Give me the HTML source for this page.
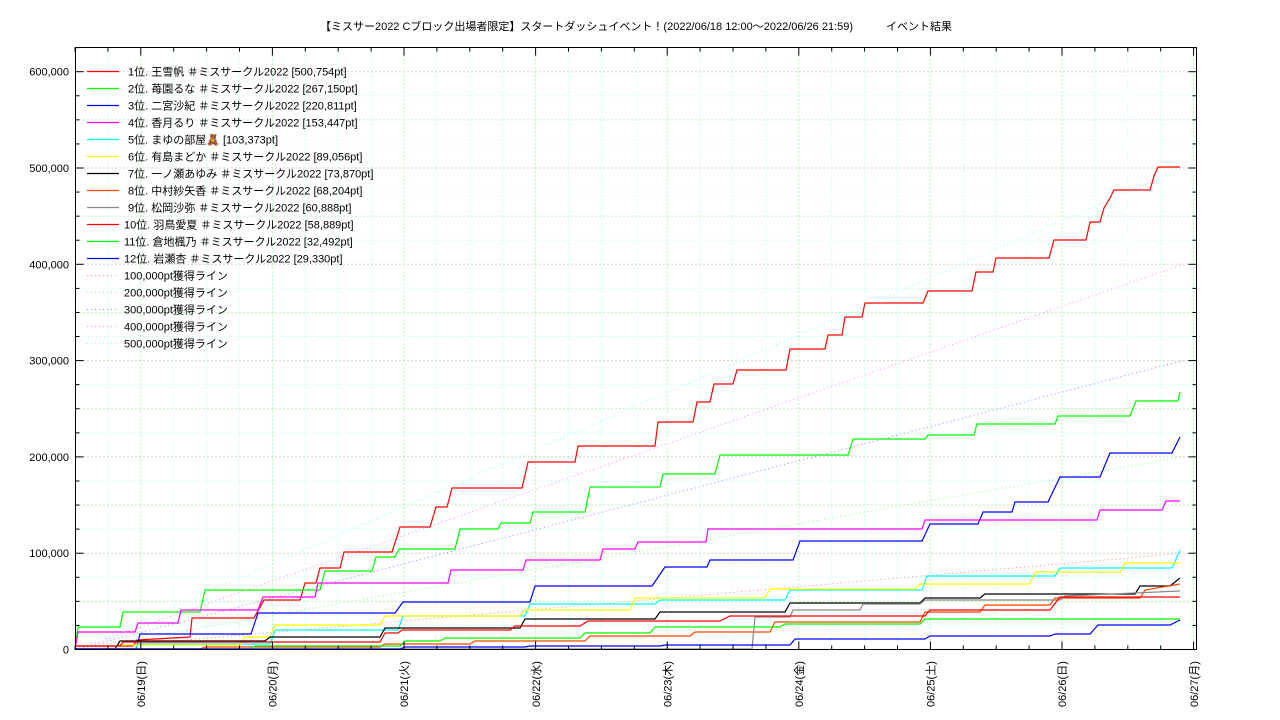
<!DOCTYPE html>
<html><head><meta charset="utf-8"><style>
html,body{margin:0;padding:0;background:#fff;width:1280px;height:720px;overflow:hidden}
svg text{font-family:"Liberation Sans","Noto Sans CJK JP",sans-serif;fill:#000}
</style></head><body>
<svg id="s" width="1280" height="720" xmlns="http://www.w3.org/2000/svg">
<text x="636" y="30" font-size="11" text-anchor="middle">【ミスサー2022 Cブロック出場者限定】スタートダッシュイベント！(2022/06/18 12:00～2022/06/26 21:59)　　　イベント結果</text>
<g id="grid"></g>
<g id="targets"></g>
<g id="series" fill="none" stroke-width="1.2"></g>
<rect x="75.5" y="47.5" width="1121" height="602" fill="none" stroke="#000"/>
<g id="ticks" stroke="#000"></g>
<g id="labels" font-size="11"></g>
<g id="legend" font-size="11"></g>
</svg>
<script>
const NS="http://www.w3.org/2000/svg";
function el(p,t,a,txt){const e=document.createElementNS(NS,t);for(const k in a)e.setAttribute(k,a[k]);if(txt)e.textContent=txt;document.getElementById(p).appendChild(e);return e;}
const L=75.5,R=1196.5,T=47.5,B=649.5,day=131.6,x0=75;
const yv=v=>B-v*0.000963;
// grid
for(let i=1;i<40;i++){let x=x0+i*day/4;if(x>=R)break;let isDay=(i%4==2);el('grid','line',{x1:x,x2:x,y1:T,y2:B,stroke:isDay?'#7e7':'#aff',"stroke-dasharray":'1,3'});}
for(let v=25000;v<=625000;v+=25000){let y=yv(v);if(y<T)break;let c=v%100000==0?'#aa7':(v%50000==0?'#7e7':'#aff');el('grid','line',{x1:L,x2:R,y1:y,y2:y,stroke:c,"stroke-dasharray":'1,3'});}
// ticks
for(let i=0;i<=40;i++){let x=x0+i*day/4;if(x>R)break;let big=(i%4==2);let len=big?8:4;
 el('ticks','line',{x1:x,x2:x,y1:B,y2:B-len});el('ticks','line',{x1:x,x2:x,y1:T,y2:T+len});}
for(let v=0;v<=625000;v+=25000){let y=yv(v);if(y<T)break;let len=v%100000==0?8:4;
 el('ticks','line',{x1:L,x2:L+len,y1:y,y2:y});el('ticks','line',{x1:R,x2:R-len,y1:y,y2:y});
 if(v%100000==0)el('labels','text',{x:69,y:y+4,"text-anchor":"end"},v.toLocaleString('en-US'));}
const days=['06/19(日)','06/20(月)','06/21(火)','06/22(水)','06/23(木)','06/24(金)','06/25(土)','06/26(日)','06/27(月)'];
days.forEach((d,i)=>{let x=x0+66+i*day+4;el('labels','text',{transform:`translate(${x},707) rotate(-90)`},d);});
// targets
const tc=['#f88','#8f8','#88f','#f8f','#8ff'];
for(let k=1;k<=5;k++){el('targets','line',{x1:L,y1:B,x2:1183,y2:yv(k*100000),stroke:tc[k-1],"stroke-dasharray":'1,3'});}
const S=[
['#f00',[[75,646],[133,646],[137,640],[190,637],[192,618],[254,618],[264,600],[300,600],[305,583],[316,583],[320,568],[340,568],[344,552],[392,552],[400,527],[430,527],[436,507],[447,507],[452,488],[522,488],[528,462],[575,462],[578,446],[655,446],[658,422],[693,422],[697,402],[710,402],[714,384],[733,384],[737,370],[786,370],[790,349],[825,349],[828,335],[842,335],[845,317],[862,317],[865,303],[923,303],[928,291],[972,291],[976,272],[993,272],[996,258],[1049,258],[1054,240],[1086,240],[1090,222],[1100,222],[1104,208],[1110,198],[1114,190],[1150,190],[1154,176],[1158,167],[1180,167]]],
['#0f0',[[75,649],[78,627],[120,627],[123,612],[200,612],[205,590],[320,590],[325,571],[372,571],[376,557],[395,557],[399,549],[455,549],[460,529],[498,529],[501,523],[530,523],[533,512],[585,512],[590,487],[660,487],[663,474],[715,474],[720,455],[848,455],[853,439],[925,439],[928,435],[974,435],[977,424],[1055,424],[1058,416],[1130,416],[1136,401],[1178,401],[1180,392]]],
['#00f',[[75,649],[136,649],[140,634],[251,634],[258,613],[395,613],[403,602],[530,602],[535,586],[652,586],[665,567],[707,567],[710,560],[793,560],[800,541],[922,541],[930,524],[978,524],[983,512],[1012,512],[1015,502],[1048,502],[1060,477],[1100,477],[1110,453],[1172,453],[1180,437]]],
['#f0f',[[75,649],[78,632],[135,632],[138,623],[178,623],[181,610],[258,610],[263,597],[315,597],[318,583],[448,583],[451,570],[523,570],[526,560],[600,560],[603,549],[635,549],[638,542],[706,542],[708,529],[922,529],[925,520],[1097,520],[1100,510],[1162,510],[1166,501],[1180,501]]],
['#0ff',[[75,649],[135,649],[138,644],[270,644],[275,630],[398,630],[403,616],[525,616],[530,604],[655,604],[660,600],[785,600],[790,590],[922,590],[927,576],[1055,576],[1060,568],[1172,568],[1180,550]]],
['#ff0',[[75,649],[115,649],[118,645],[240,645],[245,637],[270,637],[275,625],[380,625],[385,616],[520,616],[525,610],[630,610],[635,598],[765,598],[770,589],[915,589],[920,584],[1030,584],[1035,572],[1120,572],[1125,563],[1180,563]]],
['#000',[[75,649],[115,649],[120,641],[265,641],[270,637],[380,637],[385,628],[520,628],[525,619],[655,619],[660,612],[785,612],[790,603],[920,603],[925,598],[980,598],[985,594],[1135,594],[1140,586],[1170,586],[1180,578]]],
['#f40',[[75,649],[200,649],[205,647],[380,647],[385,644],[470,644],[475,641],[585,641],[590,636],[690,636],[695,632],[770,632],[775,622],[920,622],[925,612],[980,612],[985,605],[1050,605],[1055,598],[1140,598],[1145,590],[1180,584]]],
['#888',[[75,649],[752,649],[755,617],[790,617],[793,610],[860,610],[863,604],[920,604],[925,600],[1060,600],[1065,596],[1180,591]]],
['#f00',[[75,646],[120,646],[123,642],[380,642],[385,633],[398,633],[402,630],[510,630],[515,626],[580,626],[588,621],[720,621],[730,616],[925,616],[930,610],[1050,610],[1060,597],[1180,597]]],
['#0f0',[[75,649],[250,649],[255,646],[400,646],[405,641],[440,641],[445,638],[580,638],[585,633],[650,633],[655,627],[780,627],[785,624],[920,624],[925,619],[1180,619]]],
['#00f',[[75,649],[400,649],[405,647],[525,647],[530,646],[660,646],[665,645],[790,645],[795,639],[925,639],[930,636],[1050,636],[1055,634],[1090,634],[1098,625],[1170,625],[1180,620]]]
];
S.forEach(([c,p])=>{el('series','polyline',{stroke:c,points:p.map(q=>q.join(',')).join(' ')});});
const names=[' 1位. 王雪帆 ＃ミスサークル2022 [500,754pt]',' 2位. 苺園るな ＃ミスサークル2022 [267,150pt]',' 3位. 二宮沙紀 ＃ミスサークル2022 [220,811pt]',' 4位. 香月るり ＃ミスサークル2022 [153,447pt]',' 5位. まゆの部屋🧸 [103,373pt]',' 6位. 有島まどか ＃ミスサークル2022 [89,056pt]',' 7位. 一ノ瀬あゆみ ＃ミスサークル2022 [73,870pt]',' 8位. 中村紗矢香 ＃ミスサークル2022 [68,204pt]',' 9位. 松岡沙弥 ＃ミスサークル2022 [60,888pt]','10位. 羽鳥愛夏 ＃ミスサークル2022 [58,889pt]','11位. 倉地楓乃 ＃ミスサークル2022 [32,492pt]','12位. 岩瀬杏 ＃ミスサークル2022 [29,330pt]'];
names.forEach((n,i)=>{let y=71.5+i*17;el('legend','line',{x1:87,x2:119,y1:y,y2:y,stroke:S[i][0],"stroke-width":1.2});
 el('legend','text',{x:n.startsWith(' ')?128:124,y:y+4},n.trim());});
for(let k=1;k<=5;k++){let y=71.5+(11+k)*17;el('legend','line',{x1:87,x2:119,y1:y,y2:y,stroke:tc[k-1],"stroke-dasharray":'1,3'});
 el('legend','text',{x:124,y:y+4},(k*100000).toLocaleString('en-US')+'pt獲得ライン');}
</script>
</body></html>
